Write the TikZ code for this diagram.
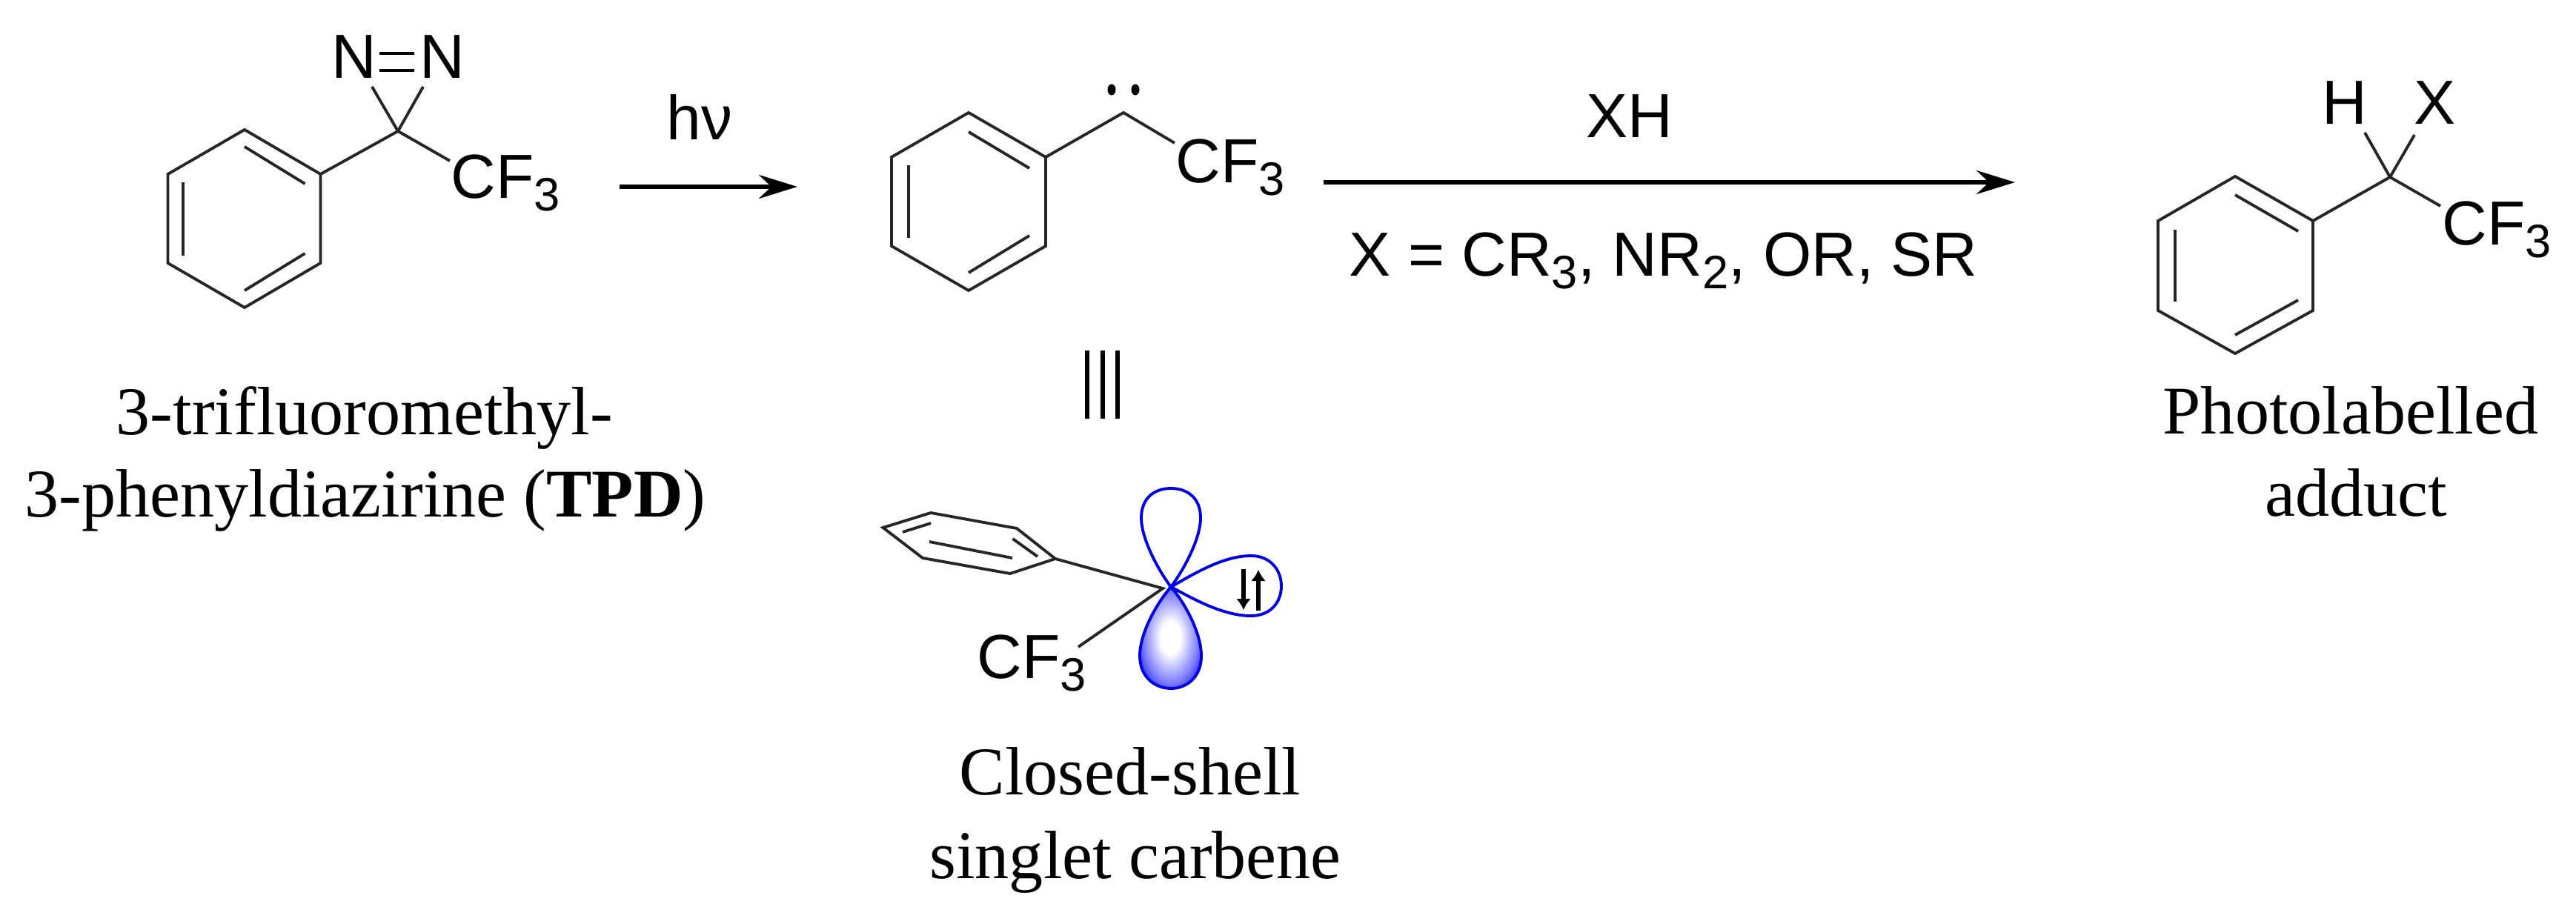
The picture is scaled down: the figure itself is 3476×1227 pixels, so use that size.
\documentclass[tikz,border=0pt]{standalone}
\usepackage{fontspec}
\setmainfont{Liberation Serif}
\newfontfamily\chemfont{Liberation Sans}
\usetikzlibrary{arrows.meta}

\newcommand{\chemsub}[1]{\raisebox{-0.17cm}{\fontsize{18}{18}\selectfont #1}}

\pgfdeclareradialshading{lobeshade}{\pgfpoint{0bp}{0bp}}{
  color(0bp)=(white); color(8bp)=(white); color(22bp)=(blue!50!white);
  color(30bp)=(blue!88!white); color(35bp)=(blue); color(50bp)=(blue)}

\tikzset{
  bond/.style={line width=1.1pt, draw=black!85},
  chem/.style={inner sep=0pt, anchor=base west, font=\chemfont\fontsize{23.9}{28}\selectfont},
  caption/.style={inner sep=0pt, anchor=base, font=\fontsize{26.2}{32}\selectfont},
  reaction/.style={line width=1.5pt, -{Stealth[length=0.52cm,width=0.32cm]}},
  lobe/.style={line width=1.1pt, draw=blue!90!black},
  spin/.style={line width=1.6pt, -{Latex[length=0.15cm,width=0.2cm]}}
}

\begin{document}
\begin{tikzpicture}[x=0.01cm,y=-0.01cm]

    \useasboundingbox (0,0) rectangle (3476,1227);

    % Diazirine: ring vertices and the quaternary carbon
    \coordinate (a1) at (330,175);
    \coordinate (a2) at (432.5,235);
    \coordinate (a3) at (432.5,355);
    \coordinate (a4) at (330,415);
    \coordinate (a5) at (226.5,355);
    \coordinate (a6) at (226.5,235);
    \coordinate (aC) at (537,177);
    \coordinate (aNl) at (502,117);
    \coordinate (aNr) at (571,117);
    \coordinate (aCF) at (607,217);

    \draw[bond] (a1) -- (a2) -- (a3) -- (a4) -- (a5) -- (a6) -- cycle;
    \draw[bond] (330,198) -- (411.5,248);
    \draw[bond] (247,246) -- (247,345);
    \draw[bond] (411.5,342) -- (330,392);
    \draw[bond] (a2) -- (aC) -- (aNl);
    \draw[bond] (aC) -- (aNr);
    \draw[bond] (aC) -- (aCF);
    \draw[line width=1.2pt] (512,72) -- (559,72);
    \draw[line width=1.2pt] (512,95) -- (559,95);

    \node[chem] (nleft) at (447,105) {N};
    \node[chem] (nright) at (566,105) {N};
    \node[chem] (cfa) at (608,267) {CF\chemsub{3}};
    \node[chem] (hnu) at (899,188) {hν};

    % Labels of the starting material
    \node[caption] (tpdone) at (492,586) {3-trifluoromethyl-};
    \node[caption] (tpdtwo) at (493,697) {3-phenyldiazirine (\textbf{TPD})};

    % First arrow
    \coordinate (hvstart) at (836,252);
    \coordinate (hvend) at (1076,252);
    \draw[reaction] (hvstart) -- (hvend);

    % Carbene
    \coordinate (b1) at (1307,152);
    \coordinate (b2) at (1411,212);
    \coordinate (b3) at (1411,332);
    \coordinate (b4) at (1307,392);
    \coordinate (b5) at (1203,332);
    \coordinate (b6) at (1203,212);
    \coordinate (bC) at (1516,152);
    \coordinate (bCF) at (1585,193);

    \draw[bond] (b1) -- (b2) -- (b3) -- (b4) -- (b5) -- (b6) -- cycle;
    \draw[bond] (1307,178) -- (1389,227);
    \draw[bond] (1226,223) -- (1226,321);
    \draw[bond] (1389,318) -- (1307,368);
    \draw[bond] (b2) -- (bC) -- (bCF);
    \fill (1500,121) ellipse (5.5 and 7.5);
    \fill (1532,121) ellipse (5.5 and 7.5);
    \node[chem] (cfb) at (1586,246) {CF\chemsub{3}};

    % Three bars between the two carbene drawings
    \draw[line width=1.5pt] (1467,473) -- (1467,565);
    \draw[line width=1.5pt] (1488,473) -- (1488,565);
    \draw[line width=1.5pt] (1508,473) -- (1508,565);

    % Second arrow and its conditions
    \coordinate (xhstart) at (1786,246);
    \coordinate (xhend) at (2719,246);
    \draw[reaction] (xhstart) -- (xhend);
    \node[chem] (xh) at (2140,185) {XH};
    \node[chem] (cond) at (1820,372) {X = CR\chemsub{3}, NR\chemsub{2}, OR, SR};

    % Adduct
    \coordinate (c1) at (3016,238);
    \coordinate (c2) at (3121,298);
    \coordinate (c3) at (3121,419);
    \coordinate (c4) at (3016,477);
    \coordinate (c5) at (2912,419);
    \coordinate (c6) at (2912,298);
    \coordinate (cC) at (3225,239);
    \coordinate (cH) at (3191,179);
    \coordinate (cX) at (3258,182);
    \coordinate (cCF) at (3293,278);

    \draw[bond] (c1) -- (c2) -- (c3) -- (c4) -- (c5) -- (c6) -- cycle;
    \draw[bond] (3016,263) -- (3101,312);
    \draw[bond] (2935,310) -- (2935,407);
    \draw[bond] (3101,405) -- (3016,452);
    \draw[bond] (c2) -- (cC) -- (cH);
    \draw[bond] (cC) -- (cX);
    \draw[bond] (cC) -- (cCF);

    \node[chem] (hatom) at (3133,167) {H};
    \node[chem] (xatom) at (3257,167) {X};
    \node[chem] (cfc) at (3295,330) {CF\chemsub{3}};
    \node[caption] (addone) at (3172,585) {Photolabelled};
    \node[caption] (addtwo) at (3179,696) {adduct};

    % Perspective drawing of the singlet carbene
    \coordinate (d1) at (1191.5,712);
    \coordinate (d2) at (1256,692);
    \coordinate (d3) at (1372,713);
    \coordinate (d4) at (1424,754);
    \coordinate (d5) at (1363,774);
    \coordinate (d6) at (1245,753);
    \coordinate (dC) at (1569,794);
    \coordinate (dCF) at (1455,873);
    \coordinate (orb) at (1580,792);

    % Filled lobe first, the bonds lie over it
    \path[shading=lobeshade] (orb) .. controls (1600,815) and (1621,855) .. (1621,885)
        .. controls (1621,915) and (1600,929) .. (1580,929)
        .. controls (1560,929) and (1538,915) .. (1538,885)
        .. controls (1538,855) and (1560,815) .. (orb);
    \draw[lobe] (orb) .. controls (1600,815) and (1621,855) .. (1621,885)
        .. controls (1621,915) and (1600,929) .. (1580,929)
        .. controls (1560,929) and (1538,915) .. (1538,885)
        .. controls (1538,855) and (1560,815) .. cycle;
    \draw[lobe] (orb) .. controls (1600,765) and (1620,725) .. (1620,699)
        .. controls (1620,670) and (1600,659) .. (1580,659)
        .. controls (1560,659) and (1540,670) .. (1540,699)
        .. controls (1540,725) and (1560,765) .. cycle;
    \draw[lobe] (orb) .. controls (1610,775) and (1650,750) .. (1688,750)
        .. controls (1715,750) and (1729,770) .. (1729,791)
        .. controls (1729,812) and (1715,831) .. (1688,831)
        .. controls (1650,831) and (1610,808) .. cycle;

    \draw[bond] (d1) -- (d2) -- (d3) -- (d4) -- (d5) -- (d6) -- cycle;
    \draw[bond] (1218,718) -- (1256,706);
    \draw[bond] (1254,731) -- (1366,753);
    \draw[bond] (1366.5,727) -- (1400,751);
    \draw[bond] (d4) -- (dC) -- (dCF);

    \draw[spin] (1678,768) -- (1678,823);
    \draw[spin] (1698,824) -- (1698,769);

    \node[chem] (cfd) at (1318,915) {CF\chemsub{3}};
    \node[caption] (closedone) at (1525,1072) {Closed-shell};
    \node[caption] (closedtwo) at (1532,1185) {singlet carbene};

\end{tikzpicture}
\end{document}
